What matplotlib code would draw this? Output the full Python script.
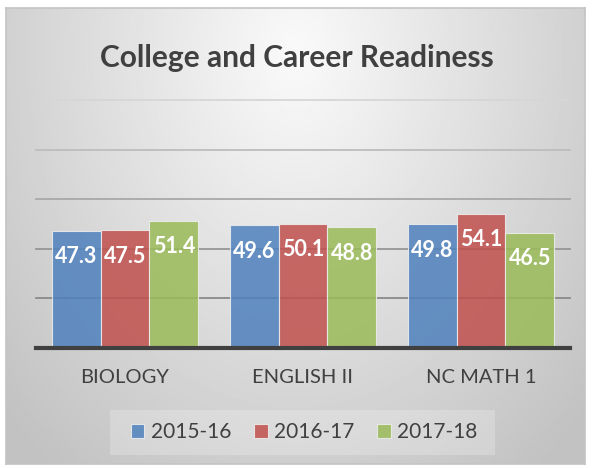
import numpy as np
import matplotlib.pyplot as plt
from matplotlib.patches import Rectangle

plt.rcParams['font.family'] = ['Lato', 'DejaVu Sans']

categories = ["BIOLOGY", "ENGLISH II", "NC MATH 1"]
series_names = ["2015-16", "2016-17", "2017-18"]
values_2015 = [47.3, 49.6, 49.8]
values_2016 = [47.5, 50.1, 54.1]
values_2017 = [51.4, 48.8, 46.5]
series_values = [values_2015, values_2016, values_2017]
colors = ["#4f81bd", "#c0504d", "#9bbb59"]

W, H = 593, 468
fig = plt.figure(figsize=(W / 100, H / 100), dpi=100)

# chart area background: radial gradient, light in the top middle
bg = fig.add_axes([6 / W, 1 - 464 / H, 579 / W, 456 / H])
gx, gy = np.meshgrid(np.linspace(-1, 1, 300), np.linspace(0, 1, 240))
r = np.sqrt((gx / 1.25) ** 2 + ((gy - 0.1) / 1.05) ** 2)
shade = np.clip(0.98 - 0.2 * r, 0.76, 0.98)
bg.imshow(shade, cmap="gray", vmin=0, vmax=1, aspect="auto",
          extent=[0, 1, 0, 1], origin="upper", interpolation="bilinear")
bg.set_xticks([])
bg.set_yticks([])
for s in bg.spines.values():
    s.set_color("#c4c4c4")
    s.set_linewidth(1.2)

ax = fig.add_axes([36 / W, 1 - 348 / H, 534 / W, 248 / H])
ax.patch.set_alpha(0)
ax.set_xlim(-0.5, 2.5)
ax.set_ylim(0, 100)

# gridlines fade from light at the top to darker near the axis
grid_colors = {20: "#8a8a8a", 40: "#969696", 60: "#a8a8a8", 80: "#bdbdbd", 100: "#d6d6d6"}
for yv, c in grid_colors.items():
    ax.axhline(yv, color=c, lw=1.3, zorder=1, clip_on=False)

x = np.arange(len(categories))
bw = 0.274
for i, (name, vals) in enumerate(zip(series_names, series_values)):
    pos = x + (i - 1) * bw
    ax.bar(pos, vals, width=bw, color=colors[i], alpha=0.85, label=name,
           edgecolor="#eeeeee", linewidth=0.8, zorder=2)
    for px, v in zip(pos, vals):
        ax.text(px, v - 10.5, f"{v}", ha="center", va="center", color="white",
                fontsize=15.5, fontweight="bold", zorder=3)

ax.axhline(0, color="#404040", lw=3, zorder=4, clip_on=False)

for s in ax.spines.values():
    s.set_visible(False)
ax.set_yticks([])
ax.set_xticks(x)
ax.set_xticklabels(categories, fontsize=14.5, color="#404040")
ax.tick_params(axis="x", length=0, pad=15)

fig.text(297 / W, 1 - 58 / H, "College and Career Readiness", ha="center",
         va="center", fontsize=21.5, fontweight="bold", color="#404040")

# legend with its own faint box
leg_box = Rectangle((110 / W, 1 - 455 / H), 385 / W, 45 / H, transform=fig.transFigure,
                    facecolor="#ffffff", alpha=0.22, edgecolor="none")
fig.patches.append(leg_box)
leg = fig.legend(loc="center", bbox_to_anchor=(304 / W, 1 - 432 / H), ncol=3,
                 frameon=False, fontsize=15, handlelength=0.65, handleheight=0.65,
                 handletextpad=0.3, columnspacing=1.1, labelcolor="#404040")

fig.savefig("out.png", dpi=100)
